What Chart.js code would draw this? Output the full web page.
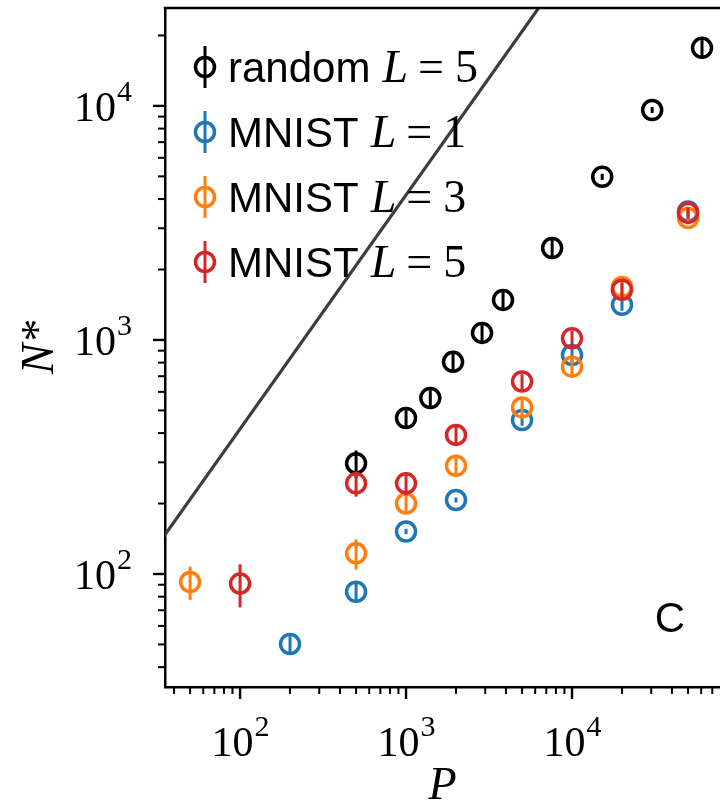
<!DOCTYPE html>
<html>
<head>
<meta charset="utf-8">
<script src="https://cdn.jsdelivr.net/npm/chart.js@4.4.1/dist/chart.umd.min.js"></script>
<style>
  html, body { margin: 0; padding: 0; background: #fff; overflow: hidden; }
</style>
</head>
<body>
<canvas id="chart" width="720" height="810"></canvas>
<script>
// ---- data ----
const pRandom = [500, 1000, 1400, 1920, 2870, 3840, 7590, 15200, 30400, 60700];
const nRandom = [297, 464, 565, 806, 1072, 1483, 2472, 4980, 9610, 17700];
const eRandom = [40, 37, 45, 65, 86, 120, 200, 150, 290, 1400];

const pL1 = [200, 500, 1000, 2000, 5000, 10000, 20000, 50000];
const nL1 = [50.2, 84, 152, 207, 455, 863, 1414, 3540];
const eL1 = [4, 7, 4, 5, 25, 60, 80, 150];

const pL3 = [50, 500, 1000, 2000, 5000, 10000, 20000, 50000];
const nL3 = [92.5, 122.5, 200, 290, 515, 769, 1685, 3320];
const eL3 = [15, 18, 16, 23, 40, 60, 100, 200];

const pL5 = [100, 500, 1000, 2000, 5000, 10000, 20000, 50000];
const nL5 = [91, 244, 244, 393, 664, 1016, 1637, 3490];
const eL5 = [19, 30, 27, 32, 50, 80, 120, 200];

// reference line N = c * P
const lineP = [30, 100000];
const lineN = [125, 416000];

// decade tick labels: mantissa + exponent
const majorValues = [100, 1000, 10000];
const majorExps = ['2', '3', '4'];

const legendWords = ['random', 'MNIST', 'MNIST', 'MNIST'];
const legendL = ['5', '1', '3', '5'];
const colors = ['#000000', '#1f77b4', '#ff7f0e', '#d62728'];

const SERIF = '"Liberation Serif", "DejaVu Serif", serif';
const SANS = '"Liberation Sans", Arial, sans-serif';

function pts(xs, ys) {
  return xs.map((x, i) => ({ x: x, y: ys[i] }));
}

function buildLogTicks(scale) {
  const ticks = [];
  const lo = Math.floor(Math.log10(scale.min));
  const hi = Math.ceil(Math.log10(scale.max));
  for (let e = lo; e <= hi; e++) {
    for (let m = 1; m < 10; m++) {
      const v = m * Math.pow(10, e);
      if (v >= scale.min && v <= scale.max) ticks.push({ value: v, major: m === 1 });
    }
  }
  scale.ticks = ticks;
}

function scatterSet(label, xs, ys, errs, color, order) {
  return {
    type: 'scatter',
    label: label,
    data: pts(xs, ys),
    errors: errs,
    borderColor: color,
    backgroundColor: 'rgba(0,0,0,0)',
    borderWidth: 3.5,
    pointRadius: 9.5,
    pointHoverRadius: 9.5,
    pointBorderWidth: 3.5,
    order: order
  };
}

// draws "10" with a raised exponent; anchor = 'center' (x axis) or 'right' (y axis)
function drawPow(ctx, x, baseline, exp, anchor) {
  ctx.font = '42px ' + SERIF;
  const w1 = ctx.measureText('10').width;
  ctx.font = '30px ' + SERIF;
  const w2 = ctx.measureText(exp).width;
  const x0 = anchor === 'center' ? x - (w1 + w2) / 2 : x - w1 - w2 - 1;
  ctx.textAlign = 'left';
  ctx.textBaseline = 'alphabetic';
  ctx.font = '42px ' + SERIF;
  ctx.fillText('10', x0, baseline);
  ctx.font = '30px ' + SERIF;
  ctx.fillText(exp, x0 + w1 + 1, baseline - 20);
}

const extras = {
  id: 'extras',
  afterDatasetDraw(chart, args) {
    const ds = chart.data.datasets[args.index];
    if (!ds.errors) return;
    const ctx = chart.ctx;
    const yScale = chart.scales.y;
    const area = chart.chartArea;
    ctx.save();
    ctx.beginPath();
    ctx.rect(area.left, area.top, area.right - area.left, area.bottom - area.top);
    ctx.clip();
    ctx.strokeStyle = ds.borderColor;
    ctx.lineWidth = 3;
    args.meta.data.forEach((el, i) => {
      const v = ds.data[i].y;
      const e = ds.errors[i];
      const y1 = yScale.getPixelForValue(Math.max(v - e, 1e-3));
      const y2 = yScale.getPixelForValue(v + e);
      ctx.beginPath();
      ctx.moveTo(el.x, y1);
      ctx.lineTo(el.x, y2);
      ctx.stroke();
    });
    ctx.restore();
  },
  afterDraw(chart) {
    const ctx = chart.ctx;
    const area = chart.chartArea;
    const xs = chart.scales.x;
    const ys = chart.scales.y;
    ctx.save();
    ctx.strokeStyle = '#000';
    ctx.fillStyle = '#000';

    // top spine
    ctx.lineWidth = 2.5;
    ctx.beginPath();
    ctx.moveTo(area.left - 1.25, area.top);
    ctx.lineTo(chart.width, area.top);
    ctx.stroke();

    // tick marks, long for decades, short otherwise
    xs.ticks.forEach(t => {
      const px = xs.getPixelForValue(t.value);
      ctx.lineWidth = t.major ? 2.4 : 2;
      ctx.beginPath();
      ctx.moveTo(px, area.bottom);
      ctx.lineTo(px, area.bottom + (t.major ? 12 : 7));
      ctx.stroke();
    });
    ys.ticks.forEach(t => {
      const py = ys.getPixelForValue(t.value);
      ctx.lineWidth = t.major ? 2.4 : 2;
      ctx.beginPath();
      ctx.moveTo(area.left, py);
      ctx.lineTo(area.left - (t.major ? 12 : 7), py);
      ctx.stroke();
    });

    // decade labels
    majorValues.forEach((v, i) => {
      drawPow(ctx, xs.getPixelForValue(v), 756, majorExps[i], 'center');
      drawPow(ctx, 132, ys.getPixelForValue(v) + 15, majorExps[i], 'right');
    });

    // legend
    const rowY = [67, 132, 197, 262];
    legendWords.forEach((word, i) => {
      const cy = rowY[i];
      const mx = 205;
      ctx.strokeStyle = colors[i];
      ctx.lineWidth = 3;
      ctx.beginPath();
      ctx.moveTo(mx, cy - 21);
      ctx.lineTo(mx, cy + 21);
      ctx.stroke();
      ctx.lineWidth = 3.5;
      ctx.beginPath();
      ctx.arc(mx, cy, 9.5, 0, Math.PI * 2);
      ctx.stroke();

      ctx.fillStyle = '#000';
      ctx.textBaseline = 'alphabetic';
      ctx.textAlign = 'left';
      const base = cy + 15;
      let x = 228;
      ctx.font = '42px ' + SANS;
      ctx.fillText(word, x, base);
      x += ctx.measureText(word).width + 12;
      ctx.font = 'italic 46px ' + SERIF;
      ctx.fillText('L', x, base);
      x += ctx.measureText('L').width + 10;
      ctx.font = '46px ' + SERIF;
      ctx.fillText('=', x, base);
      x += ctx.measureText('=').width + 11;
      ctx.fillText(legendL[i], x, base);
    });

    // panel letter
    ctx.fillStyle = '#000';
    ctx.font = '42px ' + SANS;
    ctx.textAlign = 'center';
    ctx.textBaseline = 'middle';
    ctx.fillText('C', 670, 620);
    ctx.restore();
  }
};

new Chart(document.getElementById('chart'), {
  data: {
    datasets: [
      scatterSet('MNIST L = 5', pL5, nL5, eL5, colors[3], 0),
      scatterSet('MNIST L = 3', pL3, nL3, eL3, colors[2], 1),
      scatterSet('MNIST L = 1', pL1, nL1, eL1, colors[1], 2),
      scatterSet('random L = 5', pRandom, nRandom, eRandom, colors[0], 3),
      {
        type: 'line',
        label: 'bound',
        data: pts(lineP, lineN),
        borderColor: '#3d3d3d',
        borderWidth: 3.2,
        pointRadius: 0,
        fill: false,
        order: 4
      }
    ]
  },
  options: {
    responsive: false,
    animation: false,
    events: [],
    layout: { autoPadding: false, padding: { top: 8, left: 0, right: 0, bottom: 0 } },
    plugins: {
      legend: { display: false },
      tooltip: { enabled: false }
    },
    scales: {
      x: {
        type: 'logarithmic',
        position: 'bottom',
        min: 35.3,
        max: 77900,
        afterBuildTicks: buildLogTicks,
        afterFit: s => { s.height = 123; s.paddingLeft = 0; s.paddingRight = 0; },
        border: { display: true, color: '#000', width: 2.5 },
        grid: { display: false },
        ticks: { display: false },
        title: {
          display: true, text: 'P', color: '#000',
          font: { family: SERIF, size: 46, style: 'italic', lineHeight: 1 },
          padding: { top: 0, bottom: 0 }
        }
      },
      y: {
        type: 'logarithmic',
        position: 'left',
        min: 32.9,
        max: 26200,
        afterBuildTicks: buildLogTicks,
        afterFit: s => { s.width = 165; s.paddingTop = 0; s.paddingBottom = 0; },
        border: { display: true, color: '#000', width: 2.5 },
        grid: { display: false },
        ticks: { display: false },
        title: {
          display: true, text: 'N*', color: '#000',
          font: { family: SERIF, size: 46, style: 'italic', lineHeight: 1 },
          padding: { top: 18, bottom: 0 }
        }
      }
    }
  },
  plugins: [extras]
});
</script>
</body>
</html>
